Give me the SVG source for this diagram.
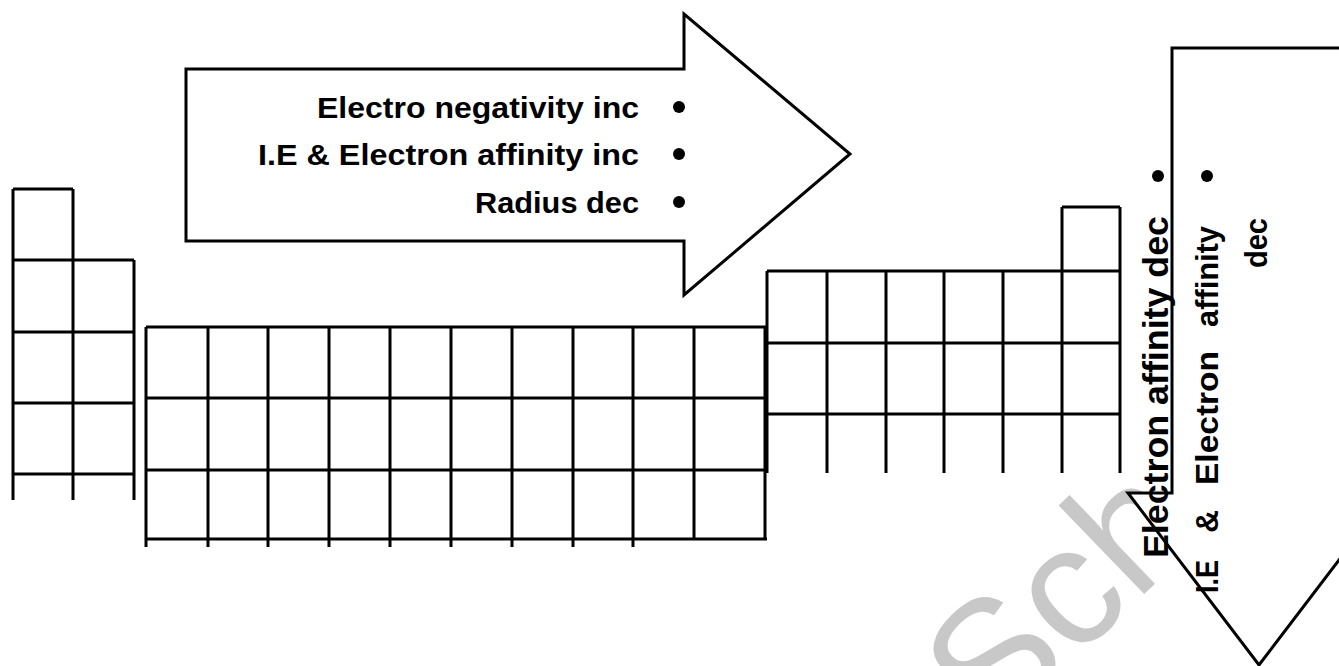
<svg xmlns="http://www.w3.org/2000/svg" width="1339" height="666" viewBox="0 0 1339 666">
<style>
.g{stroke:#000;stroke-width:3;fill:none;stroke-linecap:butt}
.ar{stroke:#000;stroke-width:3;fill:#fff;stroke-linejoin:miter}
.t{font-family:"Liberation Sans",Arial,sans-serif;font-weight:bold;fill:#000}
.wm{font-family:"Liberation Sans",Arial,sans-serif;fill:#c8c8c8}
</style>
<rect width="1339" height="666" fill="#fff"/>
<g id="s-block" class="g">
<path d="M13,189H73M13,260H134M13,332H134M13,403H134M13,474H134"/>
<path d="M13,189V500M73,189V500M134,260V500"/>
</g>
<g id="d-block" class="g">
<path d="M146,327H767M146,398H767M146,470H767M146,539H767"/>
<path d="M146,327V547M208,327V547M268,327V547M329,327V547M390,327V547M451,327V547M512,327V547M573,327V547M633,327V547M694,327V539M765,327V539"/>
</g>
<g id="p-block" class="g">
<path d="M1062,207H1120M767,271H1120M767,343H1120M767,414H1120"/>
<path d="M767,271V473M827,271V473M886,271V473M944,271V473M1003,271V473M1062,207V473M1120,207V473"/>
</g>
<text class="wm" font-size="170" transform="translate(993,740) rotate(-44)">Sch</text>
<g id="period-arrow">
<polygon class="ar" points="186,69 684,69 684,14 850,154 684,295 684,241 186,241"/>
<text class="t" font-size="30" x="317" y="118" textLength="322" lengthAdjust="spacingAndGlyphs">Electro negativity inc</text>
<text class="t" font-size="30" x="258" y="165" textLength="381" lengthAdjust="spacingAndGlyphs">I.E &amp; Electron affinity inc</text>
<text class="t" font-size="30" x="475" y="213" textLength="164" lengthAdjust="spacingAndGlyphs">Radius dec</text>
<circle cx="679" cy="107" r="6"/>
<circle cx="679" cy="154" r="6"/>
<circle cx="679" cy="202" r="6"/>
</g>
<g id="group-arrow">
<polygon class="ar" points="1172,48 1346,48 1346,493 1390,493 1259,665 1128,493 1172,493"/>
<text class="t" font-size="35" transform="translate(1168,558) rotate(-90)" textLength="342" lengthAdjust="spacingAndGlyphs">Electron affinity dec</text>
<g class="t" font-size="32">
<text transform="translate(1218,593) rotate(-90)" textLength="33" lengthAdjust="spacingAndGlyphs">I.E</text>
<text transform="translate(1218,533) rotate(-90)">&amp;</text>
<text transform="translate(1218,485) rotate(-90)" textLength="134" lengthAdjust="spacingAndGlyphs">Electron</text>
<text transform="translate(1218,327) rotate(-90)" textLength="101" lengthAdjust="spacingAndGlyphs">affinity</text>
<text transform="translate(1267,268) rotate(-90)" textLength="50" lengthAdjust="spacingAndGlyphs">dec</text>
</g>
<circle cx="1158" cy="176" r="6"/>
<circle cx="1207" cy="176" r="6"/>
</g>
</svg>
